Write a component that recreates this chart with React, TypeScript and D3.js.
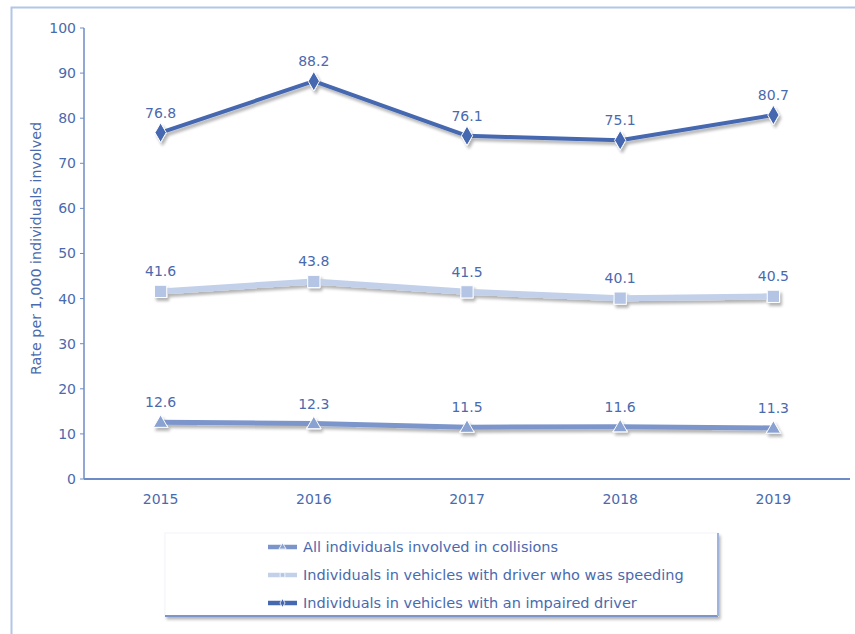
import React from "react";
import * as d3 from "d3";

const years = ["2015", "2016", "2017", "2018", "2019"];
const collisions = [12.6, 12.3, 11.5, 11.6, 11.3];
const speeding = [41.6, 43.8, 41.5, 40.1, 40.5];
const impaired = [76.8, 88.2, 76.1, 75.1, 80.7];
const yTicks = [0, 10, 20, 30, 40, 50, 60, 70, 80, 90, 100];
const seriesNames = [
  "All individuals involved in collisions",
  "Individuals in vehicles with driver who was speeding",
  "Individuals in vehicles with an impaired driver",
];

const W = 855;
const H = 634;
const TEXT = "#4a6aae";
const FONT = "'DejaVu Sans', 'Noto Sans', sans-serif";

type Series = {
  name: string;
  values: number[];
  color: string;
  width: number;
  marker: "triangle" | "square" | "diamond";
  markerColor: string;
};

const series: Series[] = [
  { name: seriesNames[0], values: collisions, color: "#7b95cb", width: 5, marker: "triangle", markerColor: "#8aa2d2" },
  { name: seriesNames[1], values: speeding, color: "#c3d0ea", width: 6, marker: "square", markerColor: "#b3c4e4" },
  { name: seriesNames[2], values: impaired, color: "#4568b0", width: 4, marker: "diamond", markerColor: "#4568b0" },
];

function markerPath(kind: string, size: number) {
  const sym =
    kind === "triangle" ? d3.symbolTriangle : kind === "square" ? d3.symbolSquare : d3.symbolDiamond;
  return d3.symbol().type(sym).size(size)() as string;
}

export default function App() {
  const left = 84;
  const right = 850;
  const top = 28;
  const bottom = 479;
  const x = d3.scaleBand<string>().domain(years).range([left, right]);
  const y = d3.scaleLinear().domain([0, 100]).range([bottom, top]);
  const cx = (yr: string) => (x(yr) as number) + x.bandwidth() / 2;

  const legendX = 165;
  const legendY = 533;
  const legendW = 553;
  const legendH = 83;

  return (
    <svg width={W} height={H} style={{ position: "absolute", left: 0, top: 0 }} fontFamily={FONT}>
      <defs>
        <filter id="shadow" x="-20%" y="-50%" width="140%" height="200%">
          <feGaussianBlur in="SourceAlpha" stdDeviation="1.8" />
          <feOffset dx="2" dy="3" result="b" />
          <feComponentTransfer>
            <feFuncA type="linear" slope="0.3" />
          </feComponentTransfer>
          <feMerge>
            <feMergeNode />
            <feMergeNode in="SourceGraphic" />
          </feMerge>
        </filter>
      </defs>
      <rect x={0} y={0} width={W} height={H} fill="#fff" />
      {/* outer frame */}
      <rect x={11.5} y={7.5} width={W} height={H} fill="none" stroke="#b4c5e5" strokeWidth={2} />

      {/* y axis */}
      <line x1={left} x2={left} y1={y(100)} y2={bottom} stroke="#6d8bc6" strokeWidth={1.5} />
      {yTicks.map((t) => (
        <g key={t}>
          <line x1={left - 4} x2={left} y1={y(t)} y2={y(t)} stroke="#6d8bc6" strokeWidth={1} />
          <text x={left - 8} y={y(t)} dy="0.35em" textAnchor="end" fontSize={14} fill={TEXT}>
            {t}
          </text>
        </g>
      ))}
      <text
        transform={`translate(41, ${(top + bottom) / 2 - 5}) rotate(-90)`}
        textAnchor="middle"
        fontSize={14.3}
        fill={TEXT}
      >
        Rate per 1,000 individuals involved
      </text>

      {/* x axis */}
      <line x1={left} x2={right} y1={bottom} y2={bottom} stroke="#6d8bc6" strokeWidth={2} />
      {years.map((yr) => (
        <text key={yr} x={cx(yr)} y={504} textAnchor="middle" fontSize={14} fill={TEXT}>
          {yr}
        </text>
      ))}

      {/* series */}
      {series.map((s) => {
        const line = d3
          .line<number>()
          .x((_, i) => cx(years[i]))
          .y((v) => y(v));
        return (
          <g key={s.name} filter="url(#shadow)">
            <path d={line(s.values) as string} fill="none" stroke={s.color} strokeWidth={s.width} strokeLinejoin="round" />
            {s.values.map((v, i) => (
              <path
                key={i}
                d={markerPath(s.marker, s.marker === "triangle" ? 90 : s.marker === "square" ? 150 : 110)}
                transform={`translate(${cx(years[i])}, ${y(v) + (s.marker === "triangle" ? 1 : 0)})`}
                fill={s.markerColor}
                stroke="#fff"
                strokeWidth={1}
              />
            ))}
          </g>
        );
      })}
      {series.map((s) =>
        s.values.map((v, i) => (
          <text
            key={s.name + i}
            x={cx(years[i])}
            y={y(v) - 15}
            textAnchor="middle"
            fontSize={14}
            fill={TEXT}
          >
            {v.toFixed(1)}
          </text>
        ))
      )}

      {/* legend */}
      <g filter="url(#shadow)">
        <rect x={legendX} y={legendY} width={legendW} height={legendH} fill="#fff" stroke="#f0f3f9" strokeWidth={1} />
      </g>
      <line x1={legendX} x2={legendX + legendW} y1={legendY + legendH} y2={legendY + legendH} stroke="#7c95cb" strokeWidth={2} />
      <line x1={legendX + legendW} x2={legendX + legendW} y1={legendY} y2={legendY + legendH} stroke="#9fb3dc" strokeWidth={2} />
      {series.map((s, i) => {
        const ly = legendY + 14 + i * 28;
        return (
          <g key={s.name}>
            <line x1={268} x2={297} y1={ly} y2={ly} stroke={s.color} strokeWidth={4.5} />
            <path d={markerPath(s.marker, 22)} transform={`translate(282.5, ${ly})`} fill={s.markerColor} stroke="#fff" strokeWidth={0.8} />
            <text x={303} y={ly} dy="0.35em" fontSize={14.5} fill={TEXT}>
              {s.name}
            </text>
          </g>
        );
      })}
    </svg>
  );
}
